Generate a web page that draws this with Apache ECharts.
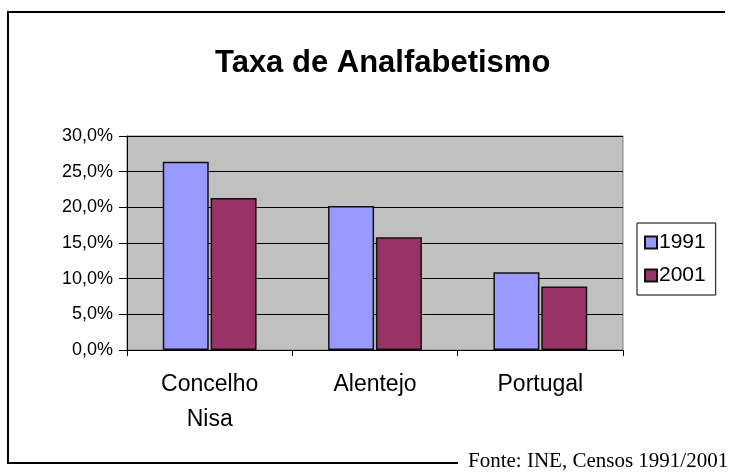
<!DOCTYPE html>
<html>
<head>
<meta charset="utf-8">
<title>Taxa de Analfabetismo</title>
<script src="https://cdn.jsdelivr.net/npm/echarts@6/dist/echarts.min.js"></script>
<style>
  html, body { margin: 0; padding: 0; background: #fff; }
  #main { width: 735px; height: 473px; }
</style>
</head>
<body>
<div id="main"></div>
<script>
// dados
var categorias = ['Concelho\nNisa', 'Alentejo', 'Portugal'];
var anos = ['1991', '2001'];
var taxa1991 = [26.4, 20.2, 10.9];
var taxa2001 = [21.3, 15.8, 8.9];
var cores = ['#9999ff', '#993366'];

var chart = echarts.init(document.getElementById('main'));

var opt = {
    animation: false,
    textStyle: { fontFamily: 'Liberation Sans, Arial, sans-serif' },
    title: {
        text: 'Taxa de Analfabetismo',
        left: 210,
        top: 43,
        textStyle: { fontSize: 31, fontWeight: 'bold', color: '#000' }
    },
    legend: {
        orient: 'vertical',
        left: 637,
        top: 223,
        padding: [9, 10, 9, 7],
        itemGap: 12,
        itemWidth: 12,
        itemHeight: 12,
        icon: 'rect',
        borderColor: '#000',
        borderWidth: 1,
        textStyle: { fontSize: 21, color: '#000', padding: [0, 0, 0, -3] },
        data: anos
    },
    grid: {
        left: 127,
        right: 112,
        top: 136,
        bottom: 123,
        show: true,
        backgroundColor: '#c0c0c0',
        borderColor: '#808080',
        borderWidth: 1
    },
    xAxis: {
        type: 'category',
        data: categorias,
        axisLine: { lineStyle: { color: '#000', width: 1 } },
        axisTick: { show: true, length: 6, lineStyle: { color: '#000' } },
        axisLabel: { fontSize: 23, color: '#000', margin: 17, lineHeight: 35 }
    },
    yAxis: {
        type: 'value',
        min: 0,
        max: 30,
        interval: 5,
        axisLine: { show: true, lineStyle: { color: '#000', width: 1 } },
        axisTick: { show: true, length: 8, lineStyle: { color: '#000' } },
        axisLabel: {
            fontSize: 18,
            color: '#000',
            margin: 14,
            formatter: function (v) { return v.toFixed(1).replace('.', ',') + '%'; }
        },
        splitLine: { lineStyle: { color: '#000', width: 1 } }
    },
    series: [
        {
            name: anos[0],
            type: 'bar',
            data: taxa1991,
            barWidth: 46,
            barGap: '4%',
            itemStyle: { color: cores[0], borderColor: '#111', borderWidth: 1.5 }
        },
        {
            name: anos[1],
            type: 'bar',
            data: taxa2001,
            barWidth: 46,
            barGap: '4%',
            itemStyle: { color: cores[1], borderColor: '#111', borderWidth: 1.5 }
        }
    ],
    graphic: [
        // moldura exterior (sem lado direito)
        {
            type: 'polyline',
            shape: { points: [[725, 12], [8, 12], [8, 463], [458, 463]] },
            style: { stroke: '#000', lineWidth: 2, fill: null }
        },
        {
            type: 'text',
            left: 468,
            top: 451,
            style: {
                text: 'Fonte: INE, Censos 1991/2001',
                font: '21px "Liberation Serif", "Times New Roman", serif',
                fill: '#000'
            }
        }
    ]
};

chart.setOption(opt);
</script>
</body>
</html>
